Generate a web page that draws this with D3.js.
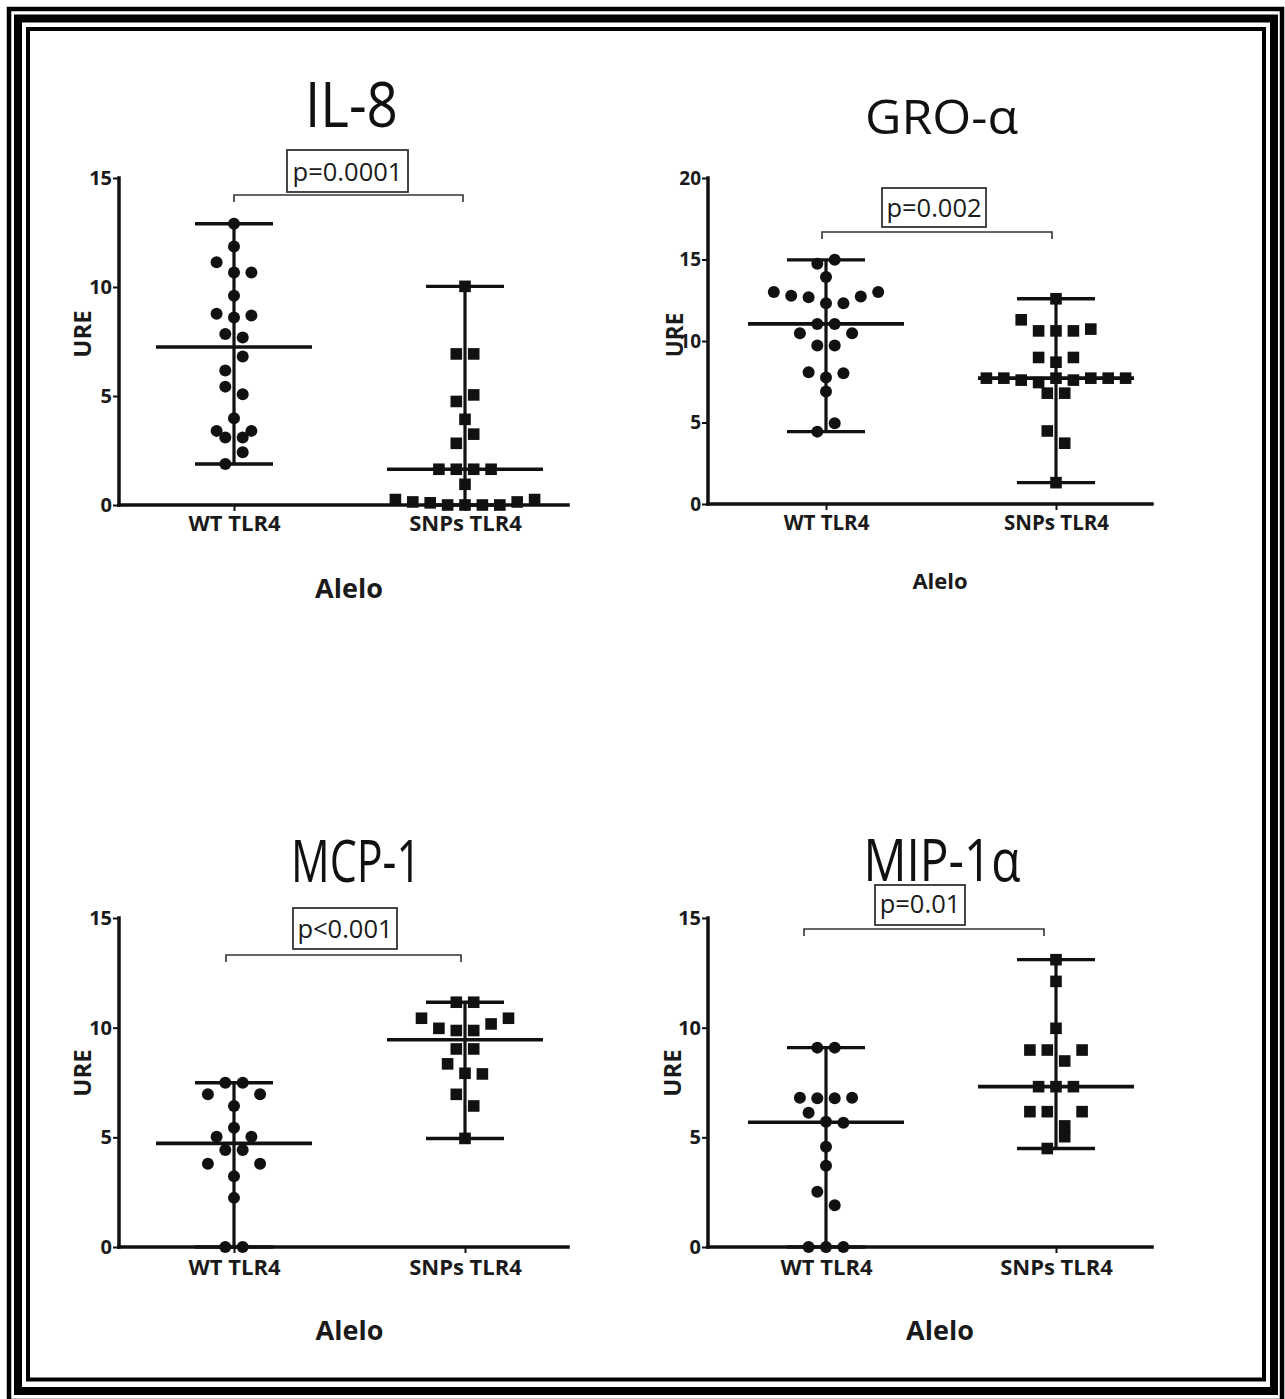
<!DOCTYPE html>
<html><head><meta charset="utf-8">
<script src="https://cdn.jsdelivr.net/npm/d3@7"></script>
<style>body{margin:0;background:#fff} svg{display:block}</style>
</head><body>
<svg id="c" width="1285" height="1399"></svg>
<script>
// ---------------- DATA ----------------
const categories = ["WT TLR4", "SNPs TLR4"];
const titles = ["IL-8", "GRO-\u03B1", "MCP-1", "MIP-1\u03B1"];
const pLabels = ["p=0.0001", "p=0.002", "p<0.001", "p=0.01"];
const yLabel = "URE";
const xLabel = "Alelo";
const ticks15 = [0, 5, 10, 15];
const ticks20 = [0, 5, 10, 15, 20];

// values listed row by row (top to bottom), left to right inside a row
const il8WT  = [12.9, 11.86, 11.14, 10.67, 10.67, 9.6, 8.77, 8.6, 8.69, 7.84, 7.68, 6.17, 6.81, 5.43, 5.08, 3.4, 3.98, 3.4, 3.1, 3.1, 1.88, 2.42];
const il8SNP = [10.03, 6.93, 6.93, 4.75, 5.05, 3.93, 2.83, 3.25, 1.64, 1.64, 1.64, 1.64, 0.95, 0.25, 0.14, 0.1, 0, 0, 0, 0, 0.14, 0.25];
const groWT  = [14.74, 14.98, 13.92, 13.0, 12.77, 12.69, 12.32, 12.32, 12.73, 13.0, 10.48, 11.05, 11.05, 10.48, 9.72, 9.72, 8.09, 7.76, 8.02, 6.9, 4.44, 4.95];
const groSNP = [12.59, 11.3, 10.62, 10.62, 10.62, 10.73, 8.99, 8.7, 8.99, 7.72, 7.72, 7.6, 7.45, 7.72, 7.6, 7.72, 7.72, 7.72, 6.8, 6.8, 4.48, 3.73, 1.31];
const mcpWT  = [6.96, 7.49, 7.49, 6.96, 6.43, 5.03, 5.44, 5.03, 3.8, 4.42, 4.42, 3.8, 3.23, 2.24, 0, 0];
const mcpSNP = [11.16, 11.16, 10.43, 9.97, 9.87, 9.87, 10.17, 10.43, 9.03, 9.03, 8.35, 7.92, 7.89, 6.96, 6.43, 4.95];
const mipWT  = [9.09, 9.09, 6.81, 6.78, 6.78, 6.81, 6.12, 5.71, 5.66, 4.57, 3.7, 2.52, 1.9, 0, 0, 0];
const mipSNP = [13.1, 12.11, 9.97, 8.98, 8.98, 8.48, 8.98, 7.31, 7.31, 7.31, 6.17, 6.17, 5.52, 6.17, 4.49, 5.03];

// ---------------- LAYOUT ----------------
const panels = [
  {series:[il8WT, il8SNP], yMax:15, ticks:ticks15, axisX:119, axisEnd:568, cx:[234,465], yTop:178, y0:505,
   tX:351.5, tY:127, tSize:63, tLen:93,
   box:[287,150,121,42], pY:181, brY:195, brX:[0,-2],
   tickSize:20, xLabY:531, xLabSize:22, alX:349, alY:598, alSize:27, ureX:82, ureY:334, ureSize:24},
  {series:[groWT, groSNP], yMax:20, ticks:ticks20, axisX:708, axisEnd:1152, cx:[826,1056], yTop:178, y0:504,
   tX:941.5, tY:134, tSize:48, tLen:153,
   box:[882,188,104,39], pY:217, brY:232, brX:[-4,-4],
   tickSize:19, xLabY:530, xLabSize:20.5, alX:940, alY:589, alSize:22, ureX:675, ureY:335, ureSize:22.5},
  {series:[mcpWT, mcpSNP], yMax:15, ticks:ticks15, axisX:119, axisEnd:568, cx:[234,465], yTop:918, y0:1247,
   tX:356, tY:882, tSize:59, tLen:130,
   box:[293,908,104,41], pY:938, brY:955, brX:[-8,-4],
   tickSize:20, xLabY:1275, xLabSize:22, alX:349.5, alY:1340, alSize:27, ureX:82, ureY:1073, ureSize:24},
  {series:[mipWT, mipSNP], yMax:15, ticks:ticks15, axisX:708, axisEnd:1152, cx:[826,1056], yTop:918, y0:1247,
   tX:942, tY:881, tSize:59, tLen:157,
   box:[875,885,90,40], pY:913, brY:929, brX:[-22,-12],
   tickSize:20, xLabY:1275, xLabSize:22, alX:940, alY:1340, alSize:27, ureX:672, ureY:1073, ureSize:24}
];

const ROW_T = 14.5;      // px: vertical extent of one scatter row
const STEP = 17.4;       // px: horizontal distance between points in a row
const R = 6, SQ = 11.6;
const INK = "#111";
const FONT = "'Open Sans', 'DejaVu Sans', sans-serif";

const svg = d3.select("#c");

// frame (triple border)
svg.append("rect").attr("x",9).attr("y",9).attr("width",1273).attr("height",1392)
  .attr("fill","none").attr("stroke","#000").attr("stroke-width",4.5);
svg.append("rect").attr("x",18).attr("y",18.5).attr("width",1256).attr("height",1372.5)
  .attr("fill","none").attr("stroke","#000").attr("stroke-width",8);
svg.append("rect").attr("x",28).attr("y",29).attr("width",1236).attr("height",1350.5)
  .attr("fill","none").attr("stroke","#000").attr("stroke-width",4);

function scatterOffsets(values, y) {
  const idx = values.map((v, i) => i).sort((a, b) => values[b] - values[a] || a - b);
  const rows = []; let cur = null;
  idx.forEach(i => {
    const py = y(values[i]);
    if (!cur || py - cur.top >= ROW_T) { cur = {top: py, items: []}; rows.push(cur); }
    cur.items.push(i);
  });
  const off = new Array(values.length).fill(0);
  rows.forEach(r => {
    r.items.sort((a, b) => a - b);
    const n = r.items.length;
    r.items.forEach((i, k) => off[i] = (k - (n - 1) / 2) * STEP);
  });
  return off;
}

panels.forEach((P, pi) => {
  const g = svg.append("g");
  const y = d3.scaleLinear().domain([0, P.yMax]).range([P.y0, P.yTop]);
  const x = d3.scalePoint().domain(categories).range(P.cx);

  // title
  g.append("text").attr("x", P.tX).attr("y", P.tY).attr("text-anchor","middle")
    .attr("font-family", FONT).attr("font-size", P.tSize).attr("fill", "#111")
    .attr("textLength", P.tLen).attr("lengthAdjust","spacingAndGlyphs")
    .text(titles[pi]);

  // y axis ticks + labels
  const ya = g.append("g").attr("transform", `translate(${P.axisX},0)`)
    .call(d3.axisLeft(y).tickValues(P.ticks).tickSize(6).tickSizeOuter(0).tickPadding(1));
  ya.select(".domain").remove();
  ya.selectAll(".tick line").attr("stroke", INK).attr("stroke-width", 2);
  ya.selectAll(".tick text").attr("font-family", FONT).attr("font-weight", 700)
    .attr("font-size", P.tickSize).attr("fill", "#1a1a1a");

  // x axis ticks + labels
  const xa = g.append("g").attr("transform", `translate(0,${P.y0})`)
    .call(d3.axisBottom(x).tickSize(6).tickSizeOuter(0));
  xa.select(".domain").remove();
  xa.selectAll(".tick line").attr("stroke", INK).attr("stroke-width", 2);
  xa.selectAll(".tick text").attr("font-family", FONT).attr("font-weight", 700)
    .attr("font-size", P.xLabSize).attr("fill", "#1a1a1a")
    .attr("y", P.xLabY - P.y0).attr("dy", 0);

  // axis lines
  g.append("line").attr("x1", P.axisX).attr("x2", P.axisX).attr("y1", y(0)).attr("y2", y(P.yMax))
    .attr("stroke", INK).attr("stroke-width", 3.5).attr("stroke-linecap","square");
  g.append("line").attr("x1", P.axisX).attr("x2", P.axisEnd).attr("y1", y(0)).attr("y2", y(0))
    .attr("stroke", INK).attr("stroke-width", 3.5).attr("stroke-linecap","square");

  // axis titles
  g.append("text").attr("transform", `translate(${P.ureX},${P.ureY}) rotate(-90)`)
    .attr("text-anchor","middle").attr("dy","0.36em")
    .attr("font-family", FONT).attr("font-weight", 700).attr("font-size", P.ureSize).attr("fill","#1a1a1a")
    .text(yLabel);
  g.append("text").attr("x", P.alX).attr("y", P.alY).attr("text-anchor","middle")
    .attr("font-family", FONT).attr("font-weight", 700).attr("font-size", P.alSize).attr("fill","#1a1a1a")
    .text(xLabel);

  // points and median/range bars
  P.series.forEach((vals, si) => {
    const cx = x(categories[si]);
    const off = scatterOffsets(vals, y);
    const gp = g.append("g");
    if (si === 0) {
      gp.selectAll("circle").data(vals).join("circle")
        .attr("cx", (d, i) => cx + off[i]).attr("cy", d => y(d)).attr("r", R).attr("fill", INK);
    } else {
      gp.selectAll("rect").data(vals).join("rect")
        .attr("x", (d, i) => cx + off[i] - SQ / 2).attr("y", d => y(d) - SQ / 2)
        .attr("width", SQ).attr("height", SQ).attr("fill", INK);
    }
    const [mn, mx] = d3.extent(vals);
    const med = d3.median(vals);
    g.append("line").attr("x1", cx).attr("x2", cx).attr("y1", y(mn)).attr("y2", y(mx))
      .attr("stroke", INK).attr("stroke-width", 3.2);
    [mn, mx].forEach(v => g.append("line").attr("x1", cx - 39).attr("x2", cx + 39)
      .attr("y1", y(v)).attr("y2", y(v)).attr("stroke", INK).attr("stroke-width", 3.4));
    g.append("line").attr("x1", cx - 78).attr("x2", cx + 78).attr("y1", y(med)).attr("y2", y(med))
      .attr("stroke", INK).attr("stroke-width", 3.6);
  });

  // significance bracket
  const bx0 = x(categories[0]) + P.brX[0], bx1 = x(categories[1]) + P.brX[1];
  g.append("path")
    .attr("d", `M${bx0},${P.brY + 7}V${P.brY}H${bx1}V${P.brY + 7}`)
    .attr("fill","none").attr("stroke","#333").attr("stroke-width",1.6);

  // p-value box
  const [bx, by, bw, bh] = P.box;
  g.append("rect").attr("x", bx).attr("y", by).attr("width", bw).attr("height", bh)
    .attr("fill","#fff").attr("stroke","#333").attr("stroke-width",1.8);
  g.append("text").attr("x", bx + bw / 2).attr("y", P.pY).attr("text-anchor","middle")
    .attr("font-family", FONT).attr("font-size", 25.5).attr("fill","#1a1a1a")
    .text(pLabels[pi]);
});
</script>
</body></html>
